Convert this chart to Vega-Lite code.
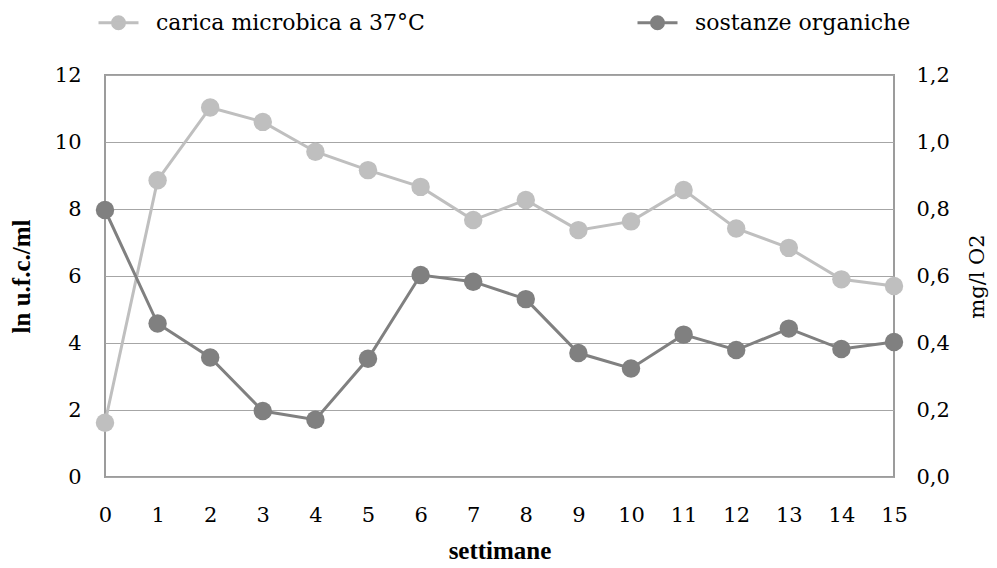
{
  "$schema": "https://vega.github.io/schema/vega-lite/v6.json",
  "width": 789,
  "height": 402,
  "autosize": {"type": "none"},
  "padding": {"left": 105, "top": 75, "right": 103, "bottom": 91},
  "background": "white",
  "config": {
    "font": "DejaVu Serif",
    "view": {"stroke": "#9c9c9c", "strokeWidth": 2},
    "axis": {"labelFont": "DejaVu Serif", "titleFont": "Liberation Serif", "labelFontSize": 21, "titleFontSize": 25, "labelColor": "#000000", "titleColor": "#000000"},
    "legend": {"labelFont": "DejaVu Serif", "labelFontSize": 22, "labelColor": "#000000"}
  },
  "data": {
    "values": [
      {"week": 0, "series": "carica microbica a 37°C", "value": 1.62},
      {"week": 1, "series": "carica microbica a 37°C", "value": 8.86},
      {"week": 2, "series": "carica microbica a 37°C", "value": 11.03},
      {"week": 3, "series": "carica microbica a 37°C", "value": 10.6},
      {"week": 4, "series": "carica microbica a 37°C", "value": 9.71},
      {"week": 5, "series": "carica microbica a 37°C", "value": 9.16},
      {"week": 6, "series": "carica microbica a 37°C", "value": 8.66},
      {"week": 7, "series": "carica microbica a 37°C", "value": 7.67},
      {"week": 8, "series": "carica microbica a 37°C", "value": 8.27},
      {"week": 9, "series": "carica microbica a 37°C", "value": 7.37},
      {"week": 10, "series": "carica microbica a 37°C", "value": 7.63},
      {"week": 11, "series": "carica microbica a 37°C", "value": 8.57},
      {"week": 12, "series": "carica microbica a 37°C", "value": 7.42},
      {"week": 13, "series": "carica microbica a 37°C", "value": 6.84},
      {"week": 14, "series": "carica microbica a 37°C", "value": 5.9},
      {"week": 15, "series": "carica microbica a 37°C", "value": 5.7},
      {"week": 0, "series": "sostanze organiche", "value": 0.797},
      {"week": 1, "series": "sostanze organiche", "value": 0.458},
      {"week": 2, "series": "sostanze organiche", "value": 0.357},
      {"week": 3, "series": "sostanze organiche", "value": 0.197},
      {"week": 4, "series": "sostanze organiche", "value": 0.171},
      {"week": 5, "series": "sostanze organiche", "value": 0.353},
      {"week": 6, "series": "sostanze organiche", "value": 0.603},
      {"week": 7, "series": "sostanze organiche", "value": 0.583},
      {"week": 8, "series": "sostanze organiche", "value": 0.531},
      {"week": 9, "series": "sostanze organiche", "value": 0.37},
      {"week": 10, "series": "sostanze organiche", "value": 0.324},
      {"week": 11, "series": "sostanze organiche", "value": 0.425},
      {"week": 12, "series": "sostanze organiche", "value": 0.379},
      {"week": 13, "series": "sostanze organiche", "value": 0.443},
      {"week": 14, "series": "sostanze organiche", "value": 0.382},
      {"week": 15, "series": "sostanze organiche", "value": 0.403}
    ]
  },
  "encoding": {
    "x": {
      "field": "week", "type": "quantitative",
      "scale": {"domain": [0, 15], "nice": false, "zero": false},
      "axis": {"title": "settimane", "titleFontWeight": "bold", "values": [0,1,2,3,4,5,6,7,8,9,10,11,12,13,14,15], "format": "d", "grid": false, "domain": false, "ticks": false, "labelPadding": 27, "titlePadding": 13, "labelFlush": false}
    },
    "color": {
      "field": "series", "type": "nominal",
      "scale": {"domain": ["carica microbica a 37°C", "sostanze organiche"], "range": ["#bfbfbf", "#808080"]},
      "legend": {
        "title": null, "orient": "none", "legendX": -8, "legendY": -74, "direction": "horizontal", "columns": 2, "columnPadding": 206,
        "symbolType": "M-1,0H1M0.3,0A0.3,0.3 0 1,1 -0.3,0A0.3,0.3 0 1,1 0.3,0Z",
        "symbolSize": 1600, "symbolStrokeWidth": 3, "symbolOpacity": 1, "symbolOffset": 0, "labelOffset": 16,
        "labelFont": "DejaVu Serif", "labelFontSize": 22, "labelColor": "#000000", "labelLimit": 400
      }
    }
  },
  "layer": [
    {
      "transform": [{"filter": "datum.series === 'carica microbica a 37°C'"}],
      "encoding": {
        "y": {
          "field": "value", "type": "quantitative",
          "scale": {"domain": [0, 12], "nice": false},
          "axis": {"title": "ln u.f.c./ml", "titleFontWeight": "bold", "values": [0,2,4,6,8,10,12], "format": "d", "grid": true, "gridColor": "#a6a6a6", "gridWidth": 1, "domain": false, "ticks": false, "labelPadding": 24, "titlePadding": 20}
        }
      },
      "layer": [
        {"mark": {"type": "line", "strokeWidth": 3}},
        {"mark": {"type": "point", "filled": true, "size": 340, "opacity": 1}}
      ]
    },
    {
      "transform": [{"filter": "datum.series === 'sostanze organiche'"}],
      "encoding": {
        "y": {
          "field": "value", "type": "quantitative",
          "scale": {"domain": [0, 1.2], "nice": false},
          "axis": {"orient": "right", "title": "mg/l O2", "titleFont": "DejaVu Serif", "titleFontSize": 21, "titleFontWeight": "normal", "titleAngle": 270, "titleBaseline": "top", "values": [0,0.2,0.4,0.6,0.8,1.0,1.2], "labelExpr": "replace(format(datum.value, '.1f'), '.', ',')", "grid": false, "domain": false, "ticks": false, "labelPadding": 22, "titlePadding": 17}
        }
      },
      "layer": [
        {"mark": {"type": "line", "strokeWidth": 3}},
        {"mark": {"type": "point", "filled": true, "size": 340, "opacity": 1}}
      ]
    }
  ],
  "resolve": {"scale": {"y": "independent"}}
}
